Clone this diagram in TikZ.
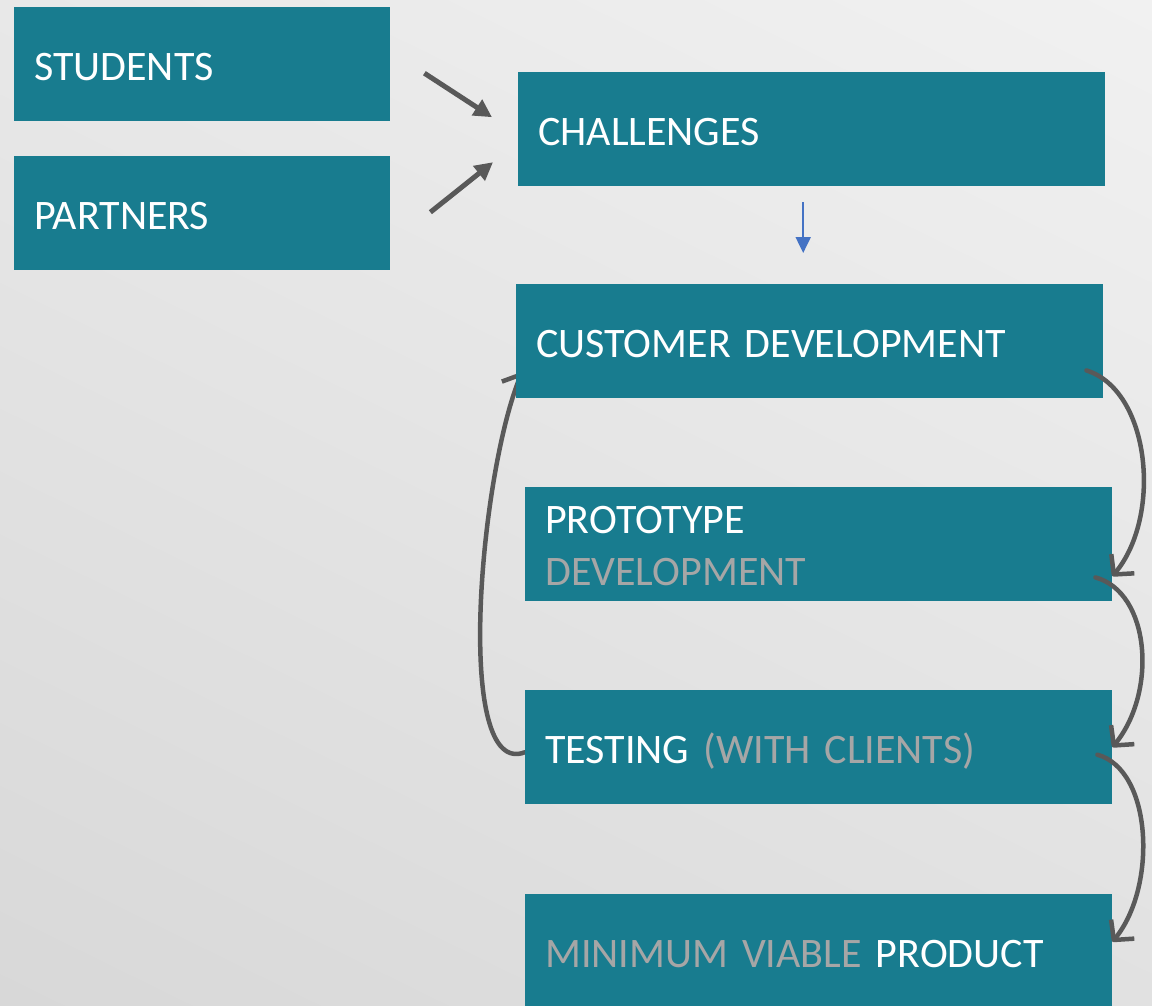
\documentclass[tikz,border=0pt]{standalone}
\usepackage{fontspec}
\setmainfont{Carlito}
\usetikzlibrary{arrows.meta,shadings}
\definecolor{boxteal}{RGB}{24,124,143}
\definecolor{softgray}{RGB}{166,166,166}
\definecolor{arrowgray}{RGB}{89,89,89}
\definecolor{flowblue}{RGB}{68,114,196}
\definecolor{bgul}{RGB}{232,232,232}
\definecolor{bgur}{RGB}{241,241,241}
\definecolor{bgll}{RGB}{216,216,216}
\definecolor{bglr}{RGB}{225,225,225}
\pgfdeclarelayer{bg}
\pgfsetlayers{bg,main}

\begin{document}
\begin{tikzpicture}[x=1pt,y=-1pt,
    box/.style={fill=boxteal, text=white, anchor=north west, inner xsep=20pt, inner ysep=0pt,
      text width=#1, minimum height=114pt, align=left, font=\fontsize{42pt}{52pt}\selectfont,
      text height=32pt, text depth=0pt},
    feed/.style={line width=5pt, arrowgray, -{Triangle[length=18pt,width=18pt]}},
    loopback/.style={line width=4.5pt, arrowgray, line cap=round, -{Straight Barb[length=14pt,width=30pt,line join=round]}},
    down/.style={line width=2pt, flowblue, -{Triangle[length=16pt,width=15pt]}}]
  \useasboundingbox (0,0) rectangle (1152,1005);
  \clip (0,0) rectangle (1152,1005);

  \node[box=336pt] (stud) at (14,7) {STUDENTS};
  \node[box=336pt] (part) at (14,156) {PARTNERS};
  \node[box=547pt] (chal) at (518,72) {CHALLENGES};
  \node[box=547pt] (cust) at (516,284) {CUSTOMER DEVELOPMENT};
  \node[box=547pt, text height=30pt, text depth=52pt] (proto) at (525,487) {PROTOTYPE\\\textcolor{softgray}{DEVELOPMENT}};
  \node[box=547pt] (test) at (525,690) {TESTING \textcolor{softgray}{(WITH CLIENTS)}};
  \node[box=547pt] (mvp) at (525,894) {\textcolor{softgray}{MINIMUM VIABLE} PRODUCT};

  \draw[feed] ([xshift=34pt,yshift=-9pt]stud.east) -- ([xshift=-26pt,yshift=12pt]chal.west);
  \draw[feed] ([xshift=40pt,yshift=1pt]part.east) -- ([xshift=-25pt,yshift=-33pt]chal.west);
  \draw[down] ([xshift=-8.5pt,yshift=-16pt]chal.south) -- ([xshift=-6.5pt,yshift=31pt]cust.north);

  \draw[loopback] ([xshift=-17pt,yshift=28pt]cust.south east) .. controls +(64,20) and +(50,-60) .. ([yshift=-32pt]proto.east);
  \draw[loopback] ([xshift=-17pt,yshift=24pt]proto.south east) .. controls +(55,15) and +(45,-55) .. (test.east);
  \draw[loopback] ([xshift=-15pt,yshift=-7.5pt]test.east) .. controls +(55,15) and +(45,-55) .. ([yshift=9.5pt]mvp.east);

  \begin{pgfonlayer}{bg}
    \shade[upper left=bgul, upper right=bgur, lower left=bgll, lower right=bglr]
      (0,0) rectangle (1152,1005);
    \draw[loopback] ([yshift=-5pt]test.west) .. controls +(-72,28) and +(-42,100) .. ([xshift=6pt,yshift=26pt]cust.south west);
  \end{pgfonlayer}
\end{tikzpicture}
\end{document}
